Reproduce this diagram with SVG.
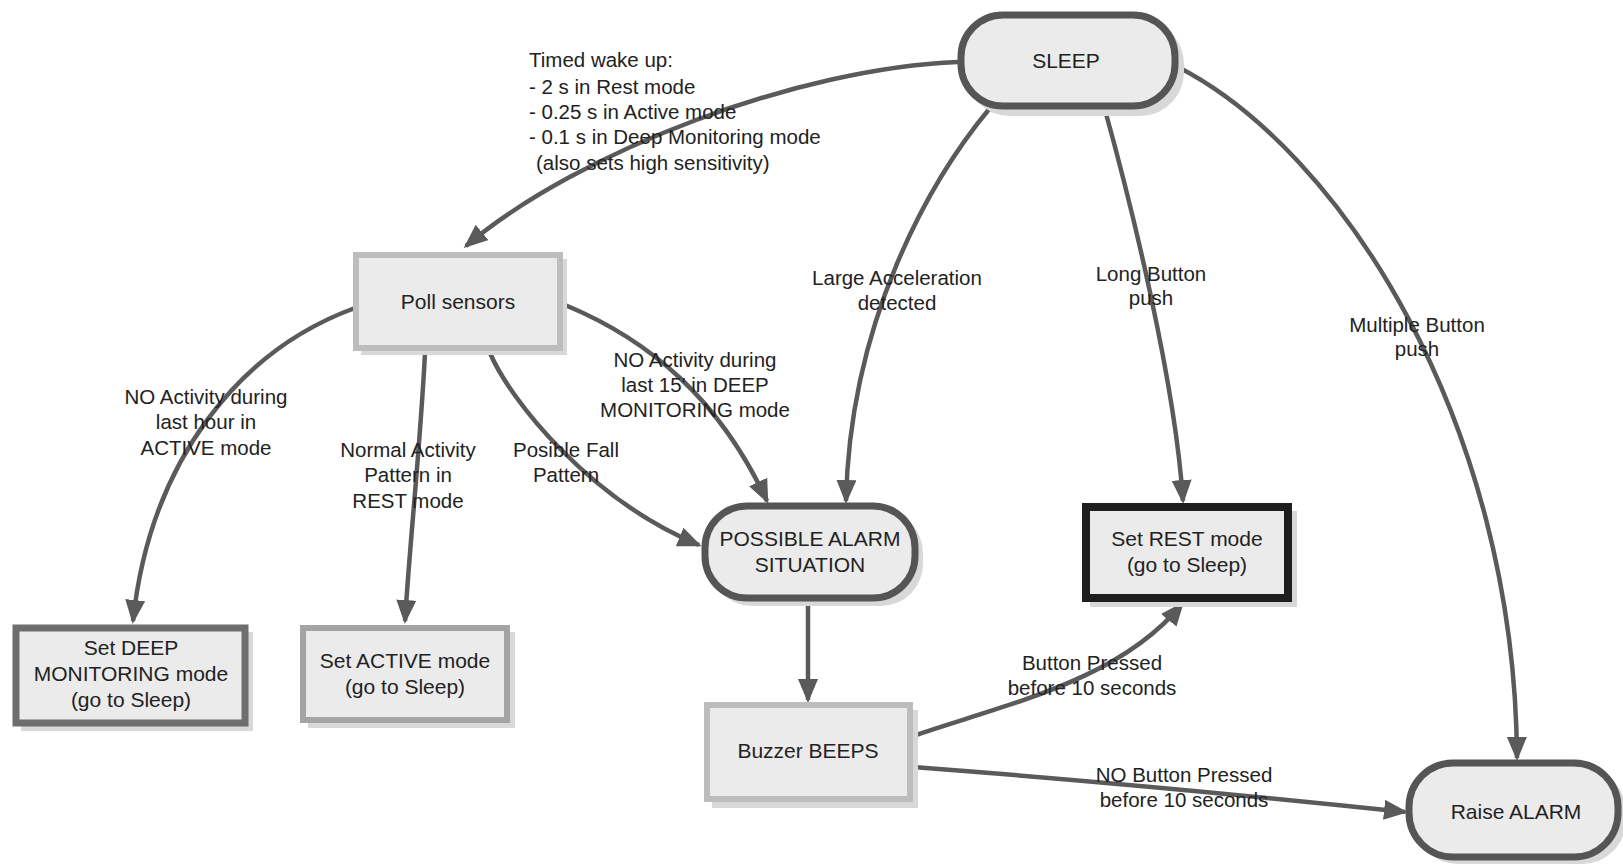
<svg xmlns="http://www.w3.org/2000/svg" width="1623" height="864" viewBox="0 0 1623 864">
<style>
  text { font-family: "Liberation Sans", Arial, sans-serif; fill: #222; }
  .node { font-size: 21px; text-anchor: middle; }
  .lbl { font-size: 20.5px; text-anchor: middle; }
  .lft { font-size: 20.5px; }
  .shadow { fill: #d8d8d8; }
  .fill { fill: #ebebeb; }
  .edge { fill: none; stroke: #5a5a5a; stroke-width: 4.5; marker-end: url(#ah); }
</style>
<defs>
  <marker id="ah" markerWidth="24" markerHeight="20" refX="21" refY="10" orient="auto" markerUnits="userSpaceOnUse">
    <path d="M0,0 L24,10 L0,20 Z" fill="#5a5a5a"/>
  </marker>
</defs>
<rect width="1623" height="864" fill="#ffffff"/>

<g id="connectors">
  <path class="edge" d="M958,62 C800,68 580,150 466,246"/>
  <path class="edge" d="M355,308 C240,350 150,460 133,621"/>
  <path class="edge" d="M425,353 C420,450 410,540 405,621"/>
  <path class="edge" d="M490,353 C510,400 590,500 699,545"/>
  <path class="edge" d="M565,305 C650,340 720,400 767,501"/>
  <path class="edge" d="M990,108 C930,180 850,320 846,501"/>
  <path class="edge" d="M1105,110 C1130,200 1175,380 1183,501"/>
  <path class="edge" d="M1178,67 C1340,150 1515,420 1517,758"/>
  <path class="edge" d="M808,604 L808,700"/>
  <path class="edge" d="M913,736 C1010,703 1120,680 1182,604"/>
  <path class="edge" d="M913,767 Q1150,785 1405,812"/>
</g>

<g id="labels">
  <text class="lft" x="529" y="67">Timed wake up:</text>
  <text class="lft" x="529" y="94">- 2 s in Rest mode</text>
  <text class="lft" x="529" y="119">- 0.25 s in Active mode</text>
  <text class="lft" x="529" y="144">- 0.1 s in Deep Monitoring mode</text>
  <text class="lft" x="536" y="170">(also sets high sensitivity)</text>

  <text class="lbl" x="897" y="285">Large Acceleration</text>
  <text class="lbl" x="897" y="310">detected</text>
  <text class="lbl" x="1151" y="281">Long Button</text>
  <text class="lbl" x="1151" y="305">push</text>
  <text class="lbl" x="1417" y="332">Multiple Button</text>
  <text class="lbl" x="1417" y="356">push</text>

  <text class="lbl" x="206" y="404">NO Activity during</text>
  <text class="lbl" x="206" y="429">last hour in</text>
  <text class="lbl" x="206" y="455">ACTIVE mode</text>
  <text class="lbl" x="408" y="457">Normal Activity</text>
  <text class="lbl" x="408" y="482">Pattern in</text>
  <text class="lbl" x="408" y="508">REST mode</text>
  <text class="lbl" x="566" y="457">Posible Fall</text>
  <text class="lbl" x="566" y="482">Pattern</text>
  <text class="lbl" x="695" y="367">NO Activity during</text>
  <text class="lbl" x="695" y="392">last 15' in DEEP</text>
  <text class="lbl" x="695" y="417">MONITORING mode</text>

  <text class="lbl" x="1092" y="670">Button Pressed</text>
  <text class="lbl" x="1092" y="695">before 10 seconds</text>
  <text class="lbl" x="1184" y="782">NO Button Pressed</text>
  <text class="lbl" x="1184" y="807">before 10 seconds</text>
</g>

<g id="sleep">
  <rect class="shadow" x="966" y="20" width="218" height="96" rx="44"/>
  <rect class="fill" x="961" y="15" width="214" height="91" rx="42" stroke="#555" stroke-width="7"/>
  <text class="node" x="1066" y="68">SLEEP</text>
</g>

<g id="poll">
  <rect class="shadow" x="361" y="259" width="206" height="96"/>
  <rect class="fill" x="356" y="255" width="204" height="93" stroke="#bdbdbd" stroke-width="6"/>
  <text class="node" x="458" y="309">Poll sensors</text>
</g>

<g id="deep">
  <rect class="shadow" x="21" y="632" width="232" height="99"/>
  <rect class="fill" x="16" y="628" width="229" height="95" stroke="#6e6e6e" stroke-width="7"/>
  <text class="node" x="131" y="655">Set DEEP</text>
  <text class="node" x="131" y="681">MONITORING mode</text>
  <text class="node" x="131" y="707">(go to Sleep)</text>
</g>

<g id="active">
  <rect class="shadow" x="308" y="632" width="207" height="96"/>
  <rect class="fill" x="303" y="628" width="204" height="92" stroke="#a4a4a4" stroke-width="6"/>
  <text class="node" x="405" y="668">Set ACTIVE mode</text>
  <text class="node" x="405" y="694">(go to Sleep)</text>
</g>

<g id="possible">
  <rect class="shadow" x="710" y="511" width="213" height="95" rx="42"/>
  <rect class="fill" x="705" y="506" width="210" height="92" rx="42" stroke="#555" stroke-width="7"/>
  <text class="node" x="810" y="546">POSSIBLE ALARM</text>
  <text class="node" x="810" y="572">SITUATION</text>
</g>

<g id="rest">
  <rect class="shadow" x="1090" y="511" width="207" height="96"/>
  <rect class="fill" x="1086" y="507" width="202" height="91" stroke="#1e1e1e" stroke-width="8"/>
  <text class="node" x="1187" y="546">Set REST mode</text>
  <text class="node" x="1187" y="572">(go to Sleep)</text>
</g>

<g id="buzzer">
  <rect class="shadow" x="712" y="710" width="206" height="98"/>
  <rect class="fill" x="707" y="705" width="203" height="94" stroke="#bdbdbd" stroke-width="6"/>
  <text class="node" x="808" y="758">Buzzer BEEPS</text>
</g>

<g id="raise">
  <rect class="shadow" x="1414" y="768" width="212" height="96" rx="44"/>
  <rect class="fill" x="1409" y="763" width="209" height="94" rx="44" stroke="#555" stroke-width="7"/>
  <text class="node" x="1516" y="819">Raise ALARM</text>
</g>
</svg>
